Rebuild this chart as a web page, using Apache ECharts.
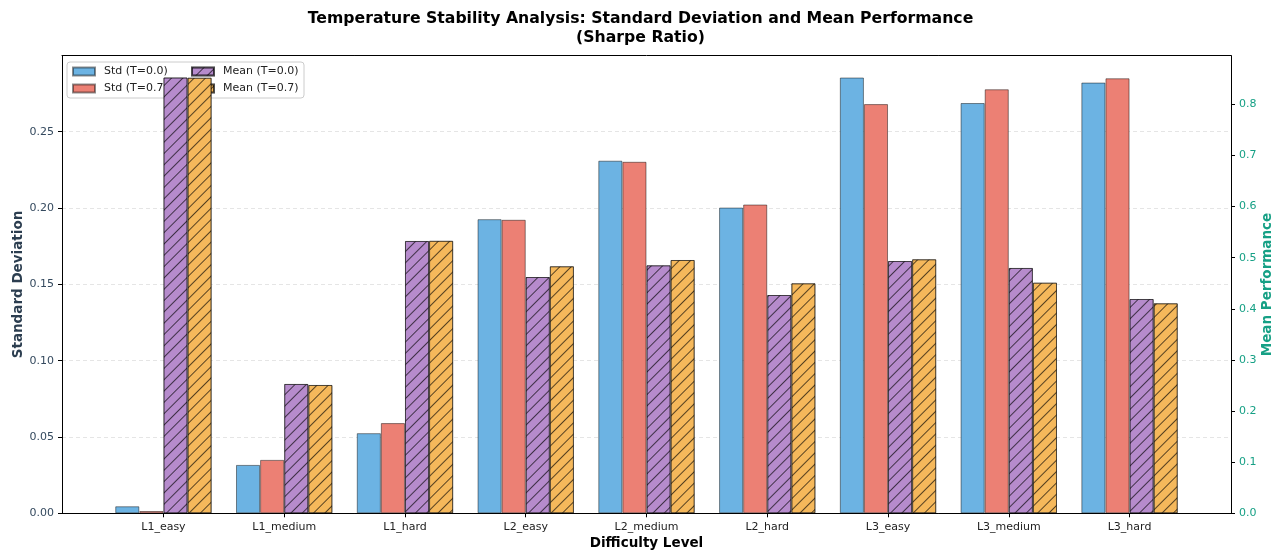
<!DOCTYPE html>
<html>
<head>
<meta charset="utf-8">
<script src="https://cdn.jsdelivr.net/npm/echarts@6/dist/echarts.min.js"></script>
<style>
html,body{margin:0;padding:0;background:#fff;}
#chart{width:1281px;height:554px;}
</style>
</head>
<body>
<div id="chart"></div>
<script>
const categories = ['L1_easy','L1_medium','L1_hard','L2_easy','L2_medium','L2_hard','L3_easy','L3_medium','L3_hard'];
const stdT00 = [0.0046, 0.0317, 0.0525, 0.1927, 0.2310, 0.2003, 0.2855, 0.2688, 0.2822];
const stdT07 = [0.0015, 0.0350, 0.0591, 0.1923, 0.2303, 0.2023, 0.2681, 0.2778, 0.2850];
const meanT00 = [0.8525, 0.2530, 0.5327, 0.4622, 0.4851, 0.4270, 0.4935, 0.4799, 0.4192];
const meanT07 = [0.8520, 0.2510, 0.5330, 0.4832, 0.4955, 0.4499, 0.4969, 0.4511, 0.4108];
const leftTicks = [0, 0.05, 0.10, 0.15, 0.20, 0.25];
const rightTicks = [0, 0.1, 0.2, 0.3, 0.4, 0.5, 0.6, 0.7, 0.8];

const FONT = 'DejaVu Sans';
const chart = echarts.init(document.getElementById('chart'), null, {renderer:'canvas'});
const idx = categories.map((c, i) => i);
const toPts = arr => arr.map((v, i) => [i, v]);
const hatch = {
  symbol: 'rect', symbolSize: 1,
  dashArrayX: [1, 0], dashArrayY: [1, 6.5],
  rotation: -Math.PI / 4,
  color: 'rgba(0,0,0,0.65)'
};
const border = 'rgba(0,0,0,0.45)';
const BW = 24.1;
const legText = w => ({fontFamily: FONT, fontSize: 11, color: '#222', width: w, lineHeight: 17, padding: [0,0,0,4]});

const option = {
  animation: false,
  backgroundColor: '#fff',
  title: {
    text: 'Temperature Stability Analysis: Standard Deviation and Mean Performance\n(Sharpe Ratio)',
    left: 'center', top: 4,
    textStyle: {fontFamily: FONT, fontWeight: 'bold', fontSize: 15.7, lineHeight: 19, color: '#000'}
  },
  legend: {
    orient: 'horizontal',
    left: 67, top: 62, width: 236,
    padding: [1, 5, 1, 5],
    itemGap: 0,
    itemWidth: 22, itemHeight: 8,
    icon: 'rect',
    backgroundColor: 'rgba(255,255,255,0.8)',
    borderColor: '#cccccc', borderWidth: 1, borderRadius: 3,
    z: 4,
    data: [
      {name: 'Std (T=0.0)', textStyle: legText(87)},
      {name: 'Mean (T=0.0)', textStyle: legText(76)},
      {name: 'Std (T=0.7)', textStyle: legText(87)},
      {name: 'Mean (T=0.7)', textStyle: legText(76)}
    ],
    textStyle: legText(87)
  },
  grid: {left: 62, right: 50, top: 55.7, bottom: 40.7, containLabel: false, outerBoundsMode: 'none'},
  xAxis: [{
    type: 'value', min: -0.84, max: 8.84,
    name: 'Difficulty Level', nameLocation: 'middle', nameGap: 23, nameMoveOverlap: false,
    nameTextStyle: {fontFamily: FONT, fontWeight: 'bold', fontSize: 13.5, color: '#000'},
    axisLine: {show: true, onZero: false, lineStyle: {color: '#000', width: 1}},
    axisTick: {show: true, customValues: idx, length: 4, lineStyle: {color: '#000'}},
    axisLabel: {customValues: idx, formatter: v => categories[Math.round(v)] || '', fontFamily: FONT, fontSize: 11, color: '#222', margin: 8},
    splitLine: {show: false}
  }, {
    type: 'value', position: 'top', min: -0.84, max: 8.84,
    axisLine: {show: true, onZero: false, lineStyle: {color: '#000', width: 1}},
    axisTick: {show: false}, axisLabel: {show: false}, splitLine: {show: false}
  }],
  yAxis: [{
    type: 'value', min: 0, max: 0.2998, position: 'left',
    name: 'Standard Deviation', nameLocation: 'middle', nameGap: 37, nameRotate: 90, nameMoveOverlap: false,
    nameTextStyle: {fontFamily: FONT, fontWeight: 'bold', fontSize: 13.5, color: '#2c3e50'},
    axisLine: {show: true, onZero: false, lineStyle: {color: '#000', width: 1}},
    axisTick: {show: true, customValues: leftTicks, length: 4, lineStyle: {color: '#000'}},
    axisLabel: {customValues: leftTicks, formatter: v => v.toFixed(2), fontFamily: FONT, fontSize: 11, color: '#34495e', margin: 8},
    splitLine: {show: true, lineStyle: {color: 'rgba(0,0,0,0.1)', type: [4, 3], width: 1}}
  }, {
    type: 'value', min: 0, max: 0.8951, position: 'right',
    name: 'Mean Performance', nameLocation: 'middle', nameGap: 29, nameRotate: 90, nameMoveOverlap: false,
    nameTextStyle: {fontFamily: FONT, fontWeight: 'bold', fontSize: 13.5, color: '#16a085'},
    axisLine: {show: true, onZero: false, lineStyle: {color: '#000', width: 1}},
    axisTick: {show: true, customValues: rightTicks, length: 4, lineStyle: {color: '#000'}},
    axisLabel: {customValues: rightTicks, formatter: v => v.toFixed(1), fontFamily: FONT, fontSize: 11, color: '#16a085', margin: 8},
    splitLine: {show: false}
  }],
  series: [
    {name: 'Std (T=0.0)', type: 'bar', xAxisIndex: 0, yAxisIndex: 0, barWidth: BW, barGap: '0%', z: 2,
     itemStyle: {color: '#6cb3e3', borderColor: border, borderWidth: 1}, data: toPts(stdT00)},
    {name: 'Std (T=0.7)', type: 'bar', xAxisIndex: 0, yAxisIndex: 0, barWidth: BW, barGap: '0%', z: 2,
     itemStyle: {color: '#ec8074', borderColor: border, borderWidth: 1}, data: toPts(stdT07)},
    {name: 'Mean (T=0.0)', type: 'bar', xAxisIndex: 0, yAxisIndex: 1, barWidth: BW, barGap: '0%', z: 5,
     itemStyle: {color: '#b68bcc', borderColor: border, borderWidth: 1, decal: hatch}, data: toPts(meanT00)},
    {name: 'Mean (T=0.7)', type: 'bar', xAxisIndex: 0, yAxisIndex: 1, barWidth: BW, barGap: '0%', z: 5,
     itemStyle: {color: '#f5b85b', borderColor: border, borderWidth: 1, decal: hatch}, data: toPts(meanT07)}
  ]
};
chart.setOption(option);
</script>
</body>
</html>
